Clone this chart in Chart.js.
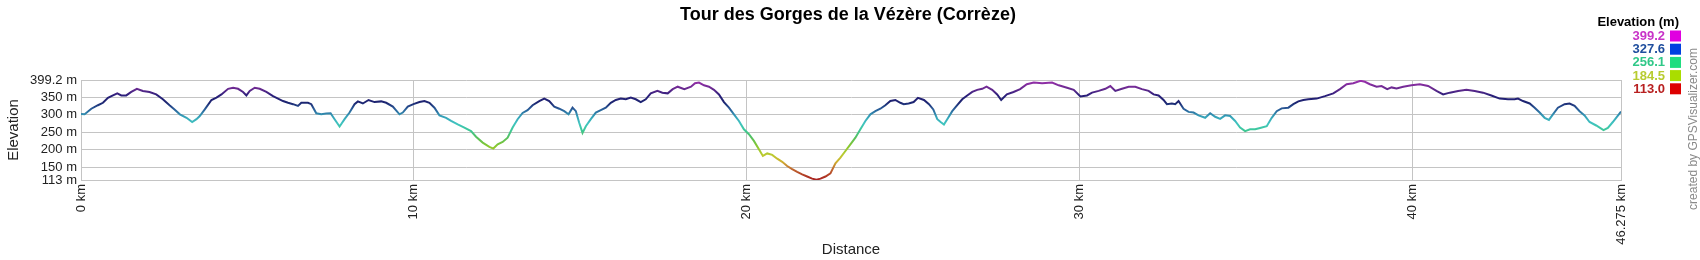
<!DOCTYPE html>
<html>
<head>
<meta charset="utf-8">
<script src="https://cdn.jsdelivr.net/npm/chart.js@4.4.1/dist/chart.umd.min.js"></script>
<style>
  body { margin: 0; background: #fff; }
  canvas { display: block; }
</style>
</head>
<body>
<canvas id="profile" width="1700" height="260"></canvas>
<script>
// distance along the track (km) and elevation (m)
const distKm = [
  0, 0.11, 0.31, 0.51, 0.66, 0.81, 0.96, 1.09, 1.21, 1.36, 1.51, 1.68, 1.86, 2.06, 2.26, 2.46, 2.66, 2.81, 2.97, 3.17,
  3.34, 3.47, 3.57, 3.72, 3.92, 4.07, 4.22, 4.42, 4.57, 4.72, 4.87, 4.97, 5.07, 5.22, 5.37, 5.57, 5.77, 5.92, 6.07, 6.22,
  6.37, 6.52, 6.62, 6.82, 6.92, 7.07, 7.22, 7.37, 7.50, 7.62, 7.77, 7.92, 8.07, 8.22, 8.32, 8.47, 8.64, 8.82, 9.02, 9.17,
  9.37, 9.57, 9.67, 9.82, 9.99, 10.17, 10.32, 10.47, 10.62, 10.77, 10.97, 11.12, 11.32, 11.52, 11.72, 11.87, 12.07, 12.27, 12.39, 12.52,
  12.67, 12.82, 12.97, 13.12, 13.27, 13.42, 13.57, 13.77, 13.92, 14.07, 14.22, 14.37, 14.52, 14.65, 14.77, 14.87, 14.97, 15.07, 15.17, 15.32,
  15.47, 15.62, 15.77, 15.92, 16.07, 16.22, 16.37, 16.52, 16.67, 16.82, 16.97, 17.12, 17.32, 17.47, 17.63, 17.78, 17.93, 18.13, 18.33, 18.45,
  18.57, 18.72, 18.87, 19.02, 19.17, 19.32, 19.47, 19.62, 19.77, 19.92, 20.07, 20.22, 20.37, 20.49, 20.62, 20.77, 20.92, 21.07, 21.22, 21.37,
  21.52, 21.67, 21.82, 21.97, 22.10, 22.22, 22.37, 22.52, 22.67, 22.82, 22.97, 23.12, 23.27, 23.42, 23.57, 23.72, 23.87, 24.02, 24.17, 24.32,
  24.47, 24.62, 24.72, 24.87, 25.02, 25.15, 25.33, 25.48, 25.61, 25.73, 25.83, 25.93, 26.03, 26.18, 26.33, 26.48, 26.63, 26.78, 26.93, 27.08,
  27.21, 27.38, 27.53, 27.65, 27.82, 28.02, 28.22, 28.42, 28.63, 28.88, 29.18, 29.38, 29.63, 29.83, 30.03, 30.23, 30.38, 30.58, 30.78, 30.93,
  31.08, 31.28, 31.48, 31.68, 31.88, 32.08, 32.23, 32.38, 32.53, 32.63, 32.78, 32.88, 32.98, 33.13, 33.28, 33.43, 33.58, 33.78, 33.93, 34.08,
  34.23, 34.38, 34.53, 34.68, 34.83, 34.98, 35.13, 35.28, 35.43, 35.63, 35.78, 35.93, 36.08, 36.28, 36.43, 36.58, 36.73, 36.88, 37.13, 37.38,
  37.63, 37.83, 38.03, 38.23, 38.45, 38.58, 38.73, 38.93, 39.08, 39.25, 39.38, 39.53, 39.73, 39.98, 40.23, 40.48, 40.73, 40.93, 41.13, 41.38,
  41.63, 41.88, 42.13, 42.38, 42.63, 42.88, 43.08, 43.18, 43.33, 43.53, 43.68, 43.83, 43.98, 44.11, 44.23, 44.38, 44.58, 44.73, 44.88, 45.03,
  45.18, 45.33, 45.53, 45.75, 45.88, 46.03, 46.275
];
const elevM = [
  302, 301, 317, 327, 334, 348, 355, 361, 355, 355, 365, 374, 368, 365, 358, 344, 327, 315, 301, 291,
  279, 287, 296, 315, 342, 349, 358, 374, 377, 374, 365, 355, 368, 377, 374, 365, 353, 346, 339, 334,
  330, 325, 334, 334, 330, 304, 301, 303, 304, 287, 266, 287, 306, 330, 338, 332, 342, 336, 338, 334,
  323, 301, 306, 323, 330, 336, 339, 334, 320, 298, 291, 282, 272, 263, 253, 237, 220, 208, 203, 215,
  222, 234, 263, 287, 305, 313, 327, 339, 346, 339, 323, 317, 310, 301, 320, 310, 277, 248, 267, 287,
  306, 313, 320, 334, 342, 346, 344, 349, 344, 336, 344, 361, 368, 363, 361, 373, 380, 373, 380, 390,
  392, 384, 380, 371, 358, 336, 320, 301, 282, 258, 244, 225, 201, 182, 189, 185, 174, 165, 153, 144,
  136, 129, 123, 117, 114, 117, 123, 132, 161, 177, 196, 215, 234, 258, 282, 301, 310, 317, 327, 339,
  342, 334, 330, 332, 336, 348, 342, 330, 315, 287, 279, 272, 287, 310, 327, 344, 355, 365, 371, 374,
  380, 371, 358, 342, 358, 365, 373, 387, 392, 390, 392, 384, 377, 371, 352, 355, 363, 368, 374, 382,
  368, 374, 380, 380, 373, 368, 358, 355, 342, 330, 332, 330, 339, 317, 308, 306, 298, 291, 304, 294,
  288, 298, 296, 282, 263, 253, 258, 258, 262, 267, 291, 310, 318, 320, 330, 338, 342, 344, 346, 353,
  361, 373, 387, 390, 397, 394, 387, 380, 382, 373, 378, 375, 380, 384, 387, 382, 368, 358, 363, 368,
  371, 368, 363, 355, 346, 344, 344, 346, 339, 332, 320, 306, 291, 285, 301, 320, 330, 332, 325, 310,
  298, 279, 269, 256, 262, 279, 309
];

const xTicks = [0, 10, 20, 30, 40, 46.275];
const yTicks = [113, 150, 200, 250, 300, 350, 399.2];
const legendVals = ['399.2', '327.6', '256.1', '184.5', '113.0'];

const titleText = 'Tour des Gorges de la Vézère (Corrèze)';

// colour ramp of the track line by elevation
const rampVals   = [113, 145, 165, 184.5, 210, 235, 256.1, 275, 295, 315, 335, 355, 375, 399.2];
const rampColors = ['#a82020', '#c06a30', '#cfb030', '#bccb30', '#88c830', '#55c060', '#3dc89a',
                    '#40c4c0', '#35a0b8', '#2a5f9a', '#1c2470', '#2a1f7a', '#6a2a90', '#a030b0'];
const legendTextColors = ['#c833c8', '#1f4e9e', '#30c888', '#b8cc30', '#b82020'];
const legendBoxColors  = ['#e000e0', '#0040e0', '#20dd80', '#aadd00', '#dd0000'];

const FONT = '"Liberation Sans", Arial, sans-serif';
const GRID = '#c4c4c4';

function lineGradient(context) {
  const chart = context.chart;
  if (!chart.chartArea) return '#1c2470';
  const y = chart.scales.y;
  const y0 = y.getPixelForValue(113), y1 = y.getPixelForValue(399.2);
  const g = chart.ctx.createLinearGradient(0, y0, 0, y1);
  rampVals.forEach((v, i) => g.addColorStop((v - 113) / (399.2 - 113), rampColors[i]));
  return g;
}

const decorations = {
  id: 'decorations',
  afterDraw(chart) {
    const c = chart.ctx;
    c.save();
    c.fillStyle = '#000';
    c.font = 'bold 18px ' + FONT;
    c.textAlign = 'center';
    c.textBaseline = 'alphabetic';
    c.fillText(titleText, 848, 20);

    // elevation legend
    c.font = 'bold 13px ' + FONT;
    c.textAlign = 'right';
    c.fillText('Elevation (m)', 1679, 26);
    c.textBaseline = 'middle';
    legendVals.forEach((v, i) => {
      const yy = 36 + i * 13.2;
      c.fillStyle = legendTextColors[i];
      c.fillText(v, 1665, yy + 0.5);
      c.fillStyle = legendBoxColors[i];
      c.fillRect(1670, yy - 5.5, 11, 11);
    });

    // credit
    c.translate(1694, 129);
    c.rotate(-Math.PI / 2);
    c.textAlign = 'center';
    c.fillStyle = '#8a8a8a';
    c.font = '12px ' + FONT;
    c.fillText('created by GPSVisualizer.com', 0, 0);
    c.restore();
  }
};

new Chart(document.getElementById('profile'), {
  type: 'line',
  data: {
    datasets: [{
      label: 'Elevation',
      data: distKm.map((d, i) => ({ x: d, y: elevM[i] })),
      borderColor: lineGradient,
      borderWidth: 2,
      pointRadius: 0,
      tension: 0,
      fill: false
    }]
  },
  options: {
    responsive: false,
    animation: false,
    devicePixelRatio: 1,
    layout: { padding: { top: 80, right: 79, left: 0, bottom: 0 } },
    plugins: {
      legend: { display: false },
      title: { display: false },
      tooltip: { enabled: false }
    },
    scales: {
      x: {
        type: 'linear',
        min: 0,
        max: 46.275,
        afterBuildTicks: s => { s.ticks = xTicks.map(v => ({ value: v })); },
        afterFit: s => { s.height = 80; },
        grid: { color: GRID, drawTicks: false },
        border: { color: GRID },
        ticks: {
          autoSkip: false,
          minRotation: 90,
          maxRotation: 90,
          padding: 4,
          color: '#222',
          font: { family: FONT, size: 13 },
          callback: v => v + ' km'
        },
        title: {
          display: true,
          text: 'Distance',
          color: '#222',
          font: { family: FONT, size: 15 },
          padding: { top: 0, bottom: 1 }
        }
      },
      y: {
        min: 113,
        max: 399.2,
        afterBuildTicks: s => { s.ticks = yTicks.map(v => ({ value: v })); },
        afterFit: s => { s.width = 81; },
        grid: { color: GRID, drawTicks: false },
        border: { color: GRID },
        ticks: {
          autoSkip: false,
          padding: 4,
          color: '#222',
          font: { family: FONT, size: 13 },
          callback: v => v + ' m'
        },
        title: {
          display: true,
          text: 'Elevation',
          color: '#222',
          font: { family: FONT, size: 15 },
          padding: { top: 5, bottom: 0 }
        }
      }
    }
  },
  plugins: [decorations]
});
</script>
</body>
</html>
